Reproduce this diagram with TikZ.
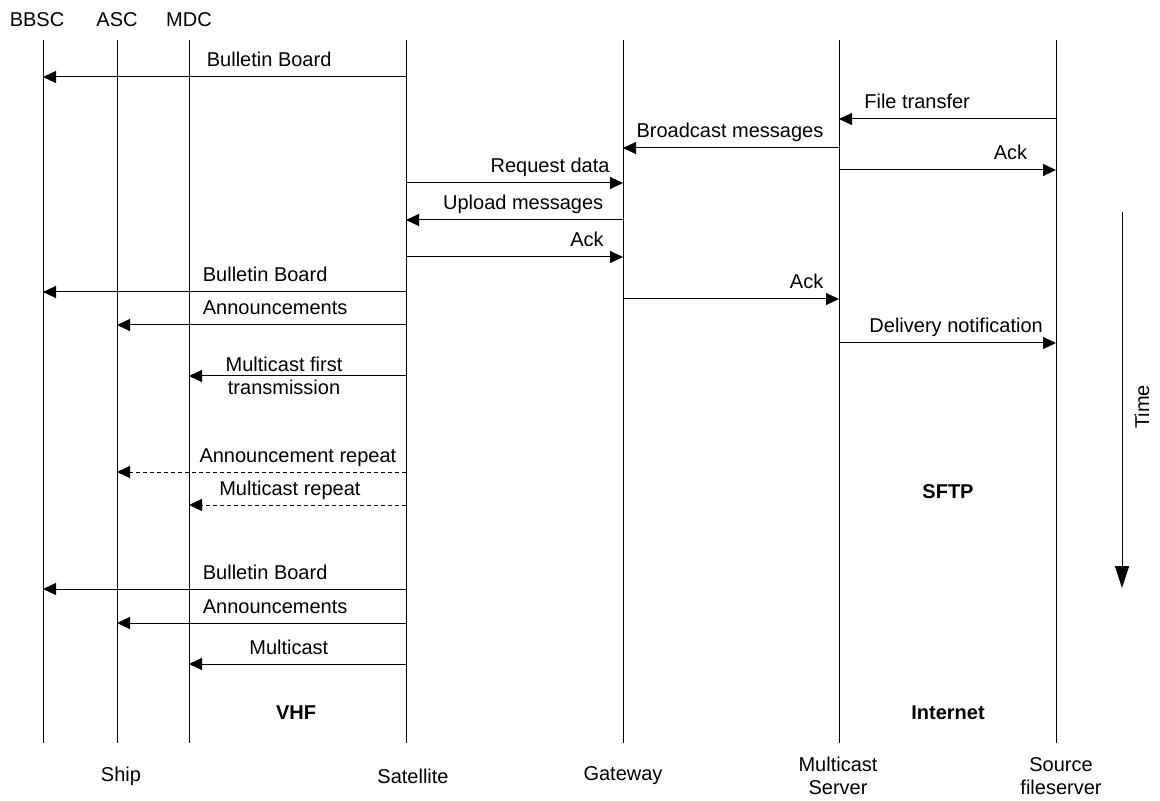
\documentclass[tikz,border=0pt]{standalone}
\usepackage{fontspec}
\setmainfont{Liberation Sans}
\usetikzlibrary{arrows.meta}

\begin{document}
\begin{tikzpicture}[x=0.5pt,y=-0.5pt]
    \tikzstyle{every node} = [font=\fontsize{10}{11.5}\selectfont]
    \tikzstyle{lifeline} = [line width=0.5pt]
    \tikzstyle{msg} = [line width=0.5pt, -{Triangle[length=6.5pt,width=6pt]}]
    \tikzstyle{msgRepeat} = [msg, dash pattern=on 2pt off 1.5pt]
    \tikzstyle{lbl} = [anchor=base, yshift=5pt, inner sep=0pt]
    \tikzstyle{zone} = [font=\fontsize{10}{11.5}\selectfont\bfseries]
    \useasboundingbox (0,0) rectangle (1160,801);
    % place nodes
    \node (bbsc) at (37,20) {BBSC};
    \node (asc) at (117,20) {ASC};
    \node (mdc) at (189,20) {MDC};
    \node (ship) at (121,776) {Ship};
    \node (satellite) at (413,776) {Satellite};
    \node (gateway) at (623,776) {Gateway};
    \node[align=center] (mcServer) at (838,776) {Multicast\\Server};
    \node[align=center] (srcServer) at (1061,776) {Source\\fileserver};
    \node[zone] (vhf) at (296,713) {VHF};
    \node[zone] (sftp) at (948,492) {SFTP};
    \node[zone] (internet) at (948,713) {Internet};
    \node[rotate=90] (time) at (1142,407) {Time};
    % lifelines
    \coordinate (bbscTop) at (43,40);   \coordinate (bbscBot) at (43,743);
    \coordinate (ascTop) at (117,40);   \coordinate (ascBot) at (117,743);
    \coordinate (mdcTop) at (189,40);   \coordinate (mdcBot) at (189,743);
    \coordinate (satTop) at (406,40);   \coordinate (satBot) at (406,743);
    \coordinate (gwTop) at (623,40);    \coordinate (gwBot) at (623,743);
    \coordinate (mcTop) at (839,40);    \coordinate (mcBot) at (839,743);
    \coordinate (srcTop) at (1056,40);  \coordinate (srcBot) at (1056,743);
    \coordinate (timeTop) at (1122,212); \coordinate (timeBot) at (1122,588);
    \draw[lifeline] (bbscTop) -- (bbscBot);
    \draw[lifeline] (ascTop) -- (ascBot);
    \draw[lifeline] (mdcTop) -- (mdcBot);
    \draw[lifeline] (satTop) -- (satBot);
    \draw[lifeline] (gwTop) -- (gwBot);
    \draw[lifeline] (mcTop) -- (mcBot);
    \draw[lifeline] (srcTop) -- (srcBot);
    \draw[line width=0.5pt, -{Triangle[length=11pt,width=7pt]}] (timeTop) -- (timeBot);
    % Connections
    \draw[msg] (satTop |- 0,77) -- node[lbl,pos=0.377]{Bulletin Board} (bbscTop |- 0,77);
    \draw[msg] (srcTop |- 0,119) -- node[lbl,pos=0.64]{File transfer} (mcTop |- 0,119);
    \draw[msg] (mcTop |- 0,148) -- node[lbl,pos=0.505]{Broadcast messages} (gwTop |- 0,148);
    \draw[msg] (mcTop |- 0,170) -- node[lbl,pos=0.79]{Ack} (srcTop |- 0,170);
    \draw[msg] (satTop |- 0,183) -- node[lbl,pos=0.664]{Request data} (gwTop |- 0,183);
    \draw[msg] (gwTop |- 0,220) -- node[lbl,pos=0.46]{Upload messages} (satTop |- 0,220);
    \draw[msg] (satTop |- 0,257) -- node[lbl,pos=0.834]{Ack} (gwTop |- 0,257);
    \draw[msg] (satTop |- 0,292) -- node[lbl,pos=0.388]{Bulletin Board} (bbscTop |- 0,292);
    \draw[msg] (gwTop |- 0,299) -- node[lbl,pos=0.85]{Ack} (mcTop |- 0,299);
    \draw[msg] (satTop |- 0,325) -- node[lbl,pos=0.453]{Announcements} (ascTop |- 0,325);
    \draw[msg] (mcTop |- 0,343) -- node[lbl,pos=0.54]{Delivery notification} (srcTop |- 0,343);
    \draw[msg] (satTop |- 0,376) -- node[pos=0.562,align=center,inner sep=0pt]{Multicast first\\transmission} (mdcTop |- 0,376);
    \draw[msgRepeat] (satTop |- 0,472) -- node[lbl,pos=0.374]{Announcement repeat} (ascTop |- 0,472);
    \draw[msgRepeat] (satTop |- 0,505) -- node[lbl,pos=0.535]{Multicast repeat} (mdcTop |- 0,505);
    \draw[msg] (satTop |- 0,589) -- node[lbl,pos=0.388]{Bulletin Board} (bbscTop |- 0,589);
    \draw[msg] (satTop |- 0,623) -- node[lbl,pos=0.453]{Announcements} (ascTop |- 0,623);
    \draw[msg] (satTop |- 0,664) -- node[lbl,pos=0.54]{Multicast} (mdcTop |- 0,664);
\end{tikzpicture}
\end{document}
